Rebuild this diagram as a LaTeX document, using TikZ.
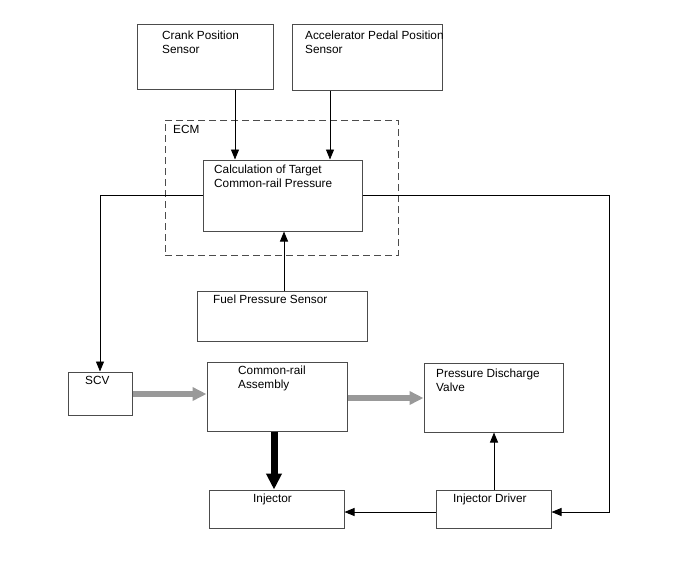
\documentclass[tikz,border=0pt]{standalone}
\usepackage{fontspec}
\setmainfont{Liberation Sans}
\usetikzlibrary{arrows.meta}
\begin{document}
\begin{tikzpicture}[x=1pt,y=-1pt,
  box/.style={draw=black!70, line width=1pt, fill=white, inner sep=0pt},
  txt/.style={anchor=north west, inner sep=0pt, align=left, font=\fontsize{11.8}{13.5}\selectfont},
  sig/.style={draw=black, line width=0.9pt, -{Triangle[length=10pt,width=8pt]}},
  flow/.style={draw=black!40, line width=6pt, -{Triangle[length=14pt,width=13pt]}},
  bigflow/.style={draw=black, line width=7pt, -{Triangle[length=16pt,width=15pt]}}]
\useasboundingbox (0,0) rectangle (688,560);
% ECM dashed frame
\node[draw=black!70, dash pattern=on 7pt off 4pt, line width=0.9pt, minimum width=233pt, minimum height=135pt, inner sep=0pt] (ecm) at (281.5,187.5) {};
\node[txt] (ecmt) at (173,125) {ECM};
% boxes
\node[box, minimum width=136pt, minimum height=65pt] (crank) at (205,56.5) {};
\node[txt] (crankt) at (162,31) {Crank Position\\Sensor};
\node[box, minimum width=150pt, minimum height=66pt] (accel) at (367,57) {};
\node[txt] (accelt) at (305,31) {Accelerator Pedal Position\\Sensor};
\node[box, minimum width=159pt, minimum height=71pt] (calc) at (282.5,195.5) {};
\node[txt] (calct) at (214,165) {Calculation of Target\\Common-rail Pressure};
\node[box, minimum width=170pt, minimum height=50pt] (fps) at (282,316) {};
\node[txt] (fpst) at (213,295) {Fuel Pressure Sensor};
\node[box, minimum width=64pt, minimum height=43pt] (scv) at (100,393.5) {};
\node[txt] (scvt) at (85,376) {SCV};
\node[box, minimum width=140pt, minimum height=69pt] (cra) at (277,396.5) {};
\node[txt] (crat) at (238,366) {Common-rail\\Assembly};
\node[box, minimum width=139pt, minimum height=69pt] (pdv) at (493.5,397.5) {};
\node[txt] (pdvt) at (436,369) {Pressure Discharge\\Valve};
\node[box, minimum width=135pt, minimum height=38pt] (inj) at (276.5,509) {};
\node[txt] (injt) at (253,494) {Injector};
\node[box, minimum width=115pt, minimum height=38pt] (drv) at (493.5,509) {};
\node[txt] (drvt) at (453,494) {Injector Driver};
% coordinates
\coordinate (cl) at (100,195);
\coordinate (cr) at (609,195);
\coordinate (br) at (609,512);
% signal connectors
\draw[sig] (crank.south -| 235,0) -- (calc.north -| 235,0);
\draw[sig] (accel.south -| 330,0) -- (calc.north -| 330,0);
\draw[sig] (fps.north -| 284,0) -- (calc.south -| 284,0);
\draw[sig] (calc.west |- cl) -- (cl) -- (scv.north -| cl);
\draw[sig] (calc.east |- cr) -- (cr) -- (br) -- (drv.east |- br);
\draw[sig] (drv.west |- br) -- (inj.east |- br);
\draw[sig] (drv.north -| 494,0) -- (pdv.south -| 494,0);
% flow arrows
\draw[flow] (scv.east |- 0,394) -- (cra.west |- 0,394);
\draw[flow] (cra.east |- 0,398) -- (pdv.west |- 0,398);
\draw[bigflow] (cra.south -| 274,0) -- (inj.north -| 274,0);
\end{tikzpicture}
\end{document}
